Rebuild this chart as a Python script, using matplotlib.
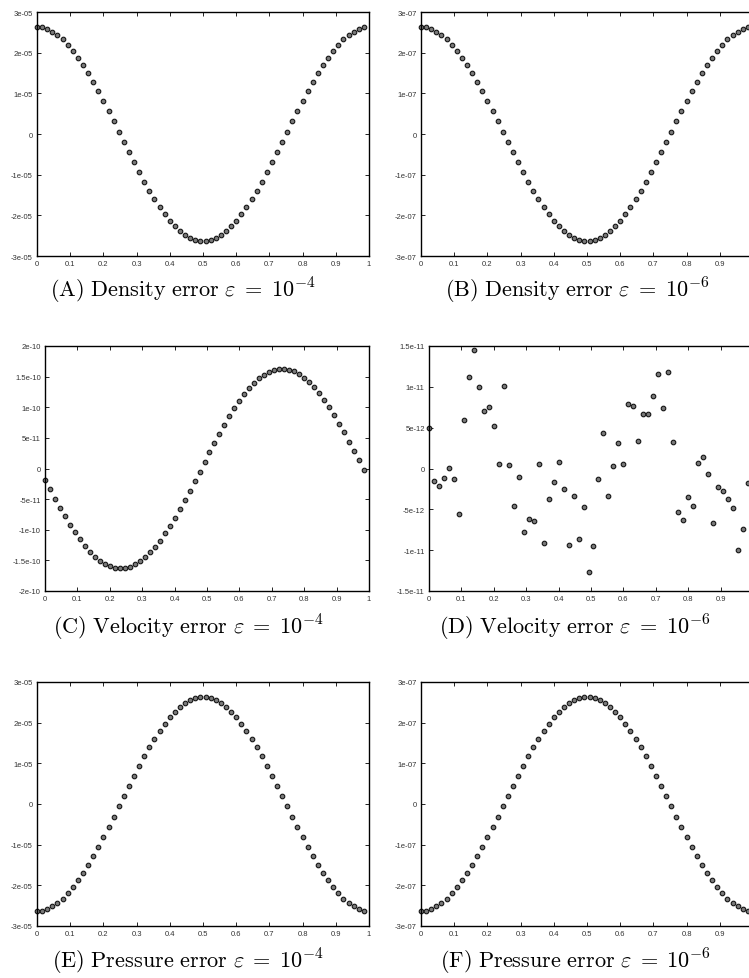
import numpy as np
import matplotlib
matplotlib.use('Agg')
import matplotlib.pyplot as plt
from matplotlib.ticker import FuncFormatter

plt.rcParams['mathtext.fontset'] = 'cm'

# 65 samples on [0, 1), step 1/65
x = np.arange(65) / 65

# values, in units of the scale given on the right
density_4 = [2.63, 2.62, 2.58, 2.52, 2.44, 2.33, 2.20, 2.05, 1.88, 1.70,
             1.49, 1.28, 1.05, 0.81, 0.57, 0.32, 0.06, -0.19, -0.44, -0.69,
             -0.93, -1.17, -1.39, -1.60, -1.79, -1.97, -2.13, -2.27, -2.39, -2.48,
             -2.55, -2.60, -2.63, -2.63, -2.60, -2.55, -2.48, -2.39, -2.27, -2.13,
             -1.97, -1.79, -1.60, -1.39, -1.17, -0.93, -0.69, -0.44, -0.19, 0.06,
             0.32, 0.57, 0.81, 1.05, 1.28, 1.49, 1.70, 1.88, 2.05, 2.20,
             2.33, 2.44, 2.52, 2.58, 2.62]  # x 1e-5
density_6 = [2.63, 2.62, 2.58, 2.52, 2.44, 2.33, 2.20, 2.05, 1.88, 1.70,
             1.49, 1.28, 1.05, 0.81, 0.57, 0.32, 0.06, -0.19, -0.44, -0.69,
             -0.93, -1.17, -1.39, -1.60, -1.79, -1.97, -2.13, -2.27, -2.39, -2.48,
             -2.55, -2.60, -2.63, -2.63, -2.60, -2.55, -2.48, -2.39, -2.27, -2.13,
             -1.97, -1.79, -1.60, -1.39, -1.17, -0.93, -0.69, -0.44, -0.19, 0.06,
             0.32, 0.57, 0.81, 1.05, 1.28, 1.49, 1.70, 1.88, 2.05, 2.20,
             2.33, 2.44, 2.52, 2.58, 2.62]  # x 1e-7
velocity_4 = [-1.84, -3.39, -4.92, -6.39, -7.81, -9.15, -10.41, -11.58, -12.63, -13.57,
              -14.37, -15.05, -15.58, -15.97, -16.21, -16.30, -16.24, -16.02, -15.65, -15.14,
              -14.49, -13.70, -12.78, -11.76, -10.61, -9.36, -8.03, -6.62, -5.16, -3.64,
              -2.09, -0.52, 1.05, 2.62, 4.16, 5.66, 7.11, 8.49, 9.80, 11.01,
              12.12, 13.11, 13.99, 14.73, 15.33, 15.80, 16.11, 16.27, 16.29, 16.15,
              15.86, 15.42, 14.83, 14.11, 13.26, 12.28, 11.19, 10.00, 8.71, 7.34,
              5.90, 4.40, 2.87, 1.31, -0.27]  # x 1e-11
velocity_6 = [5.00, -1.52, -2.13, -1.15, 0.12, -1.31, -5.53, 5.98, 11.15, 14.47,
              9.96, 7.09, 7.54, 5.25, 0.49, 10.16, 0.45, -4.63, -1.07, -7.83,
              -6.23, -6.48, 0.57, -9.10, -3.69, -1.68, 0.78, -2.50, -9.34, -3.36,
              -8.65, -4.71, -12.70, -9.43, -1.27, 4.39, -3.40, 0.29, 3.07, 0.49,
              7.87, 7.70, 3.32, 6.72, 6.72, 8.93, 11.56, 7.46, 11.76, 3.24,
              -5.33, -6.35, -3.52, -4.59, 0.70, 1.39, -0.70, -6.72, -2.25, -2.70,
              -3.77, -4.80, -10.00, -7.38, -1.76]  # x 1e-12
pressure_4 = [-2.63, -2.62, -2.58, -2.52, -2.44, -2.33, -2.20, -2.05, -1.88, -1.70,
              -1.49, -1.28, -1.05, -0.81, -0.57, -0.32, -0.06, 0.19, 0.44, 0.69,
              0.93, 1.17, 1.39, 1.60, 1.79, 1.97, 2.13, 2.27, 2.39, 2.48,
              2.55, 2.60, 2.63, 2.63, 2.60, 2.55, 2.48, 2.39, 2.27, 2.13,
              1.97, 1.79, 1.60, 1.39, 1.17, 0.93, 0.69, 0.44, 0.19, -0.06,
              -0.32, -0.57, -0.81, -1.05, -1.28, -1.49, -1.70, -1.88, -2.05, -2.20,
              -2.33, -2.44, -2.52, -2.58, -2.62]  # x 1e-5
pressure_6 = [-2.63, -2.62, -2.58, -2.52, -2.44, -2.33, -2.20, -2.05, -1.88, -1.70,
              -1.49, -1.28, -1.05, -0.81, -0.57, -0.32, -0.06, 0.19, 0.44, 0.69,
              0.93, 1.17, 1.39, 1.60, 1.79, 1.97, 2.13, 2.27, 2.39, 2.48,
              2.55, 2.60, 2.63, 2.63, 2.60, 2.55, 2.48, 2.39, 2.27, 2.13,
              1.97, 1.79, 1.60, 1.39, 1.17, 0.93, 0.69, 0.44, 0.19, -0.06,
              -0.32, -0.57, -0.81, -1.05, -1.28, -1.49, -1.70, -1.88, -2.05, -2.20,
              -2.33, -2.44, -2.52, -2.58, -2.62]  # x 1e-7

captions = [r'$\mathrm{(A)\ Density\ error}\ \varepsilon\;=\;10^{-4}$',
            r'$\mathrm{(B)\ Density\ error}\ \varepsilon\;=\;10^{-6}$',
            r'$\mathrm{(C)\ Velocity\ error}\ \varepsilon\;=\;10^{-4}$',
            r'$\mathrm{(D)\ Velocity\ error}\ \varepsilon\;=\;10^{-6}$',
            r'$\mathrm{(E)\ Pressure\ error}\ \varepsilon\;=\;10^{-4}$',
            r'$\mathrm{(F)\ Pressure\ error}\ \varepsilon\;=\;10^{-6}$']

W, H = 749, 979

# (values, unit, y limit, y step, axes box in px: x0, y0, x1, y1, caption centre in px)
panels = [
    (density_4, 1e-5, 3e-5, 1e-5, (37, 13, 369, 257), (183, 291)),
    (density_6, 1e-7, 3e-7, 1e-7, (421, 13, 753, 257), (577, 291)),
    (velocity_4, 1e-11, 2e-10, 5e-11, (45, 347, 369, 592), (188, 628)),
    (velocity_6, 1e-12, 1.5e-11, 5e-12, (429, 347, 753, 592), (575, 628)),
    (pressure_4, 1e-5, 3e-5, 1e-5, (37, 683, 369, 927), (188, 962)),
    (pressure_6, 1e-7, 3e-7, 1e-7, (421, 683, 753, 927), (576, 962)),
]

fig = plt.figure(figsize=(W / 100, H / 100), dpi=100)

gfmt = FuncFormatter(lambda v, pos: '%g' % v)

for (vals, unit, ylim, ystep, box, cpos), cap in zip(panels, captions):
    x0, y0, x1, y1 = box
    ax = fig.add_axes([x0 / W, 1 - y1 / H, (x1 - x0) / W, (y1 - y0) / H])
    ax.plot(x, np.array(vals) * unit, 'o', ms=3.3, mfc='#7a7a7a', mec='#151515',
            mew=0.8, clip_on=False)
    ax.set_xlim(0, 1)
    ax.set_ylim(-ylim, ylim)
    xt = np.arange(0, 1.001, 0.1)
    ax.set_xticks(xt)
    if x1 > W:
        # the right column runs past the page edge, its "1" label is off the page
        ax.set_xticklabels(['%g' % v for v in xt[:-1]] + [''])
    else:
        ax.xaxis.set_major_formatter(gfmt)
    n = int(round(ylim / ystep))
    ax.set_yticks(np.arange(-n, n + 1) * ystep)
    ax.yaxis.set_major_formatter(gfmt)
    ax.tick_params(direction='in', length=3, width=0.6, top=True, right=True,
                   labelsize=5.5, labelcolor='#333333', pad=3)
    for s in ax.spines.values():
        s.set_linewidth(1.0)
    for lab in ax.get_xticklabels() + ax.get_yticklabels():
        lab.set_family('Liberation Sans')
    fig.text(cpos[0] / W, 1 - cpos[1] / H, cap, ha='center', va='center', fontsize=16)

fig.savefig('out.png', dpi=100)
